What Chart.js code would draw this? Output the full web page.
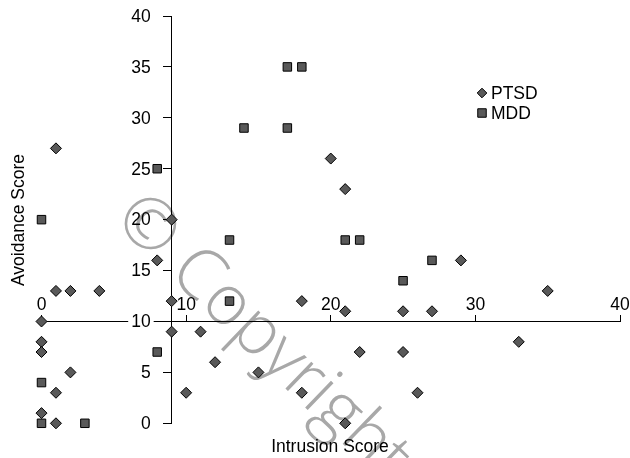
<!DOCTYPE html>
<html>
<head>
<meta charset="utf-8">
<script src="https://cdn.jsdelivr.net/npm/chart.js@4.4.1/dist/chart.umd.min.js"></script>
<style>
  html, body { margin: 0; padding: 0; background: #fff; }
  #wrap { width: 630px; height: 458px; }
</style>
</head>
<body>
<div id="wrap"><canvas id="scatter" width="630" height="458"></canvas></div>
<script>
// Intrusion (x) vs Avoidance (y) scores
const ptsdX = [1, 0, 0, 0, 0, 1, 1, 2, 1, 2, 4, 8, 9, 9, 9, 10, 11, 12, 15, 18, 18, 20, 21, 21, 21, 22, 25, 25, 26, 27, 29, 33, 35];
const ptsdY = [27, 10, 8, 7, 1, 0, 3, 5, 13, 13, 13, 16, 20, 12, 9, 3, 9, 6, 5, 12, 3, 26, 23, 11, 0, 7, 11, 7, 3, 11, 16, 8, 13];
const mddX = [0, 8, 8, 0, 0, 3, 13, 13, 14, 17, 17, 18, 21, 22, 25, 27];
const mddY = [20, 25, 7, 4, 0, 0, 12, 18, 29, 29, 35, 35, 18, 18, 14, 16];

const xTicks = [0, 10, 20, 30, 40];
const yTicks = [0, 5, 10, 15, 20, 25, 30, 35, 40];
const seriesNames = ['PTSD', 'MDD'];

const FONT = '"Liberation Sans", Arial, sans-serif';
const FONT_SIZE = 17.5;
const markFill = '#595959';

function toPoints(xs, ys) {
    return xs.map((x, i) => ({ x: x, y: ys[i] }));
}

// titles, y tick labels, legend and the watermark
const decorations = {
    id: 'decorations',
    beforeDraw(chart) {
        const ctx = chart.ctx;
        ctx.save();
        ctx.translate(149, 222);
        ctx.rotate(44 * Math.PI / 180);
        ctx.font = '300 70px "Open Sans", ' + FONT;
        ctx.fillStyle = '#a8a8a8';
        ctx.textAlign = 'left';
        ctx.textBaseline = 'alphabetic';
        ctx.fillText('\u00A9 Copyright', -27, 25);
        ctx.restore();
    },
    beforeDatasetsDraw(chart) {
        // y labels sit left of the crossing axis, Chart.js puts them on the line
        const ctx = chart.ctx;
        const yScale = chart.scales.y;
        const axisX = chart.scales.x.getPixelForValue(9);
        ctx.save();
        ctx.font = FONT_SIZE + 'px ' + FONT;
        ctx.textAlign = 'right';
        ctx.textBaseline = 'middle';
        yScale.ticks.forEach(t => {
            const py = yScale.getPixelForValue(t.value);
            const label = String(t.value);
            const right = axisX - 21;
            if (t.value === 10) {
                const w = ctx.measureText(label).width;
                ctx.fillStyle = '#fff';
                ctx.fillRect(right - w - 3, py - 6, w + 6, 12);
            }
            ctx.fillStyle = '#000';
            ctx.fillText(label, right, py + 1);
        });
        ctx.restore();
    },
    afterDraw(chart) {
        const ctx = chart.ctx;
        ctx.save();
        ctx.fillStyle = '#000';
        ctx.font = FONT_SIZE + 'px ' + FONT;
        ctx.textAlign = 'center';
        ctx.textBaseline = 'middle';
        ctx.fillText('Intrusion Score', 330, 447);
        ctx.save();
        ctx.translate(19, 220);
        ctx.rotate(-Math.PI / 2);
        ctx.fillText('Avoidance Score', 0, 0);
        ctx.restore();

        // legend
        const rows = [93, 113];
        chart.data.datasets.forEach((ds, i) => {
            ctx.fillStyle = ds.backgroundColor;
            ctx.strokeStyle = ds.borderColor;
            ctx.lineWidth = 1;
            Chart.helpers.drawPoint(ctx, {
                pointStyle: ds.pointStyle,
                radius: i === 0 ? 4.8 : 6,
                borderWidth: 1,
                rotation: 0
            }, 482, rows[i]);
            ctx.fillStyle = '#000';
            ctx.textAlign = 'left';
            ctx.fillText(ds.label, 491, rows[i] + 1);
        });
        ctx.restore();
    }
};

new Chart(document.getElementById('scatter'), {
    type: 'scatter',
    data: {
        datasets: [{
            label: seriesNames[0],
            data: toPoints(ptsdX, ptsdY),
            pointStyle: 'rectRot',
            pointRadius: 5.5,
            backgroundColor: markFill,
            borderColor: '#000',
            borderWidth: 1,
            clip: false
        }, {
            label: seriesNames[1],
            data: toPoints(mddX, mddY),
            pointStyle: 'rect',
            pointRadius: 6,
            backgroundColor: markFill,
            borderColor: '#000',
            borderWidth: 1,
            clip: false
        }]
    },
    options: {
        responsive: false,
        animation: false,
        layout: { padding: { left: 41.5, right: 10, top: 16, bottom: 34.7 } },
        plugins: {
            legend: { display: false },
            tooltip: { enabled: false }
        },
        scales: {
            x: {
                type: 'linear',
                min: 0,
                max: 40,
                position: { y: 10 },
                afterFit: (s) => { s.height = 0; },
                afterBuildTicks: (s) => { s.ticks = xTicks.map(v => ({ value: v })); },
                grid: { drawOnChartArea: false, drawTicks: true, tickLength: -7, color: '#000' },
                border: { color: '#000', width: 1 },
                ticks: { padding: -20, color: '#000', font: { family: FONT, size: FONT_SIZE } }
            },
            y: {
                type: 'linear',
                min: 0,
                max: 40,
                position: { x: 9 },
                afterFit: (s) => { s.width = 0; },
                afterBuildTicks: (s) => { s.ticks = yTicks.map(v => ({ value: v })); },
                grid: { drawOnChartArea: false, drawTicks: true, tickLength: 8, color: '#000' },
                border: { color: '#000', width: 1 },
                ticks: { display: false }
            }
        }
    },
    plugins: [decorations]
});
</script>
</body>
</html>
